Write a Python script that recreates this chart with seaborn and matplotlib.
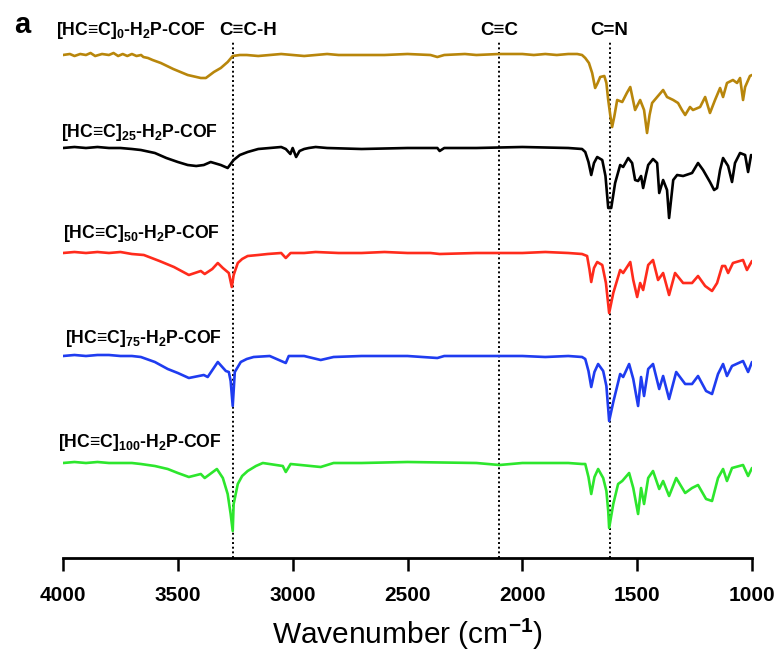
import matplotlib
matplotlib.use("Agg")
import matplotlib.pyplot as plt
import pandas as pd
import seaborn as sns

sns.set_style("white")
plt.rcParams['font.family'] = ['Liberation Sans', 'DejaVu Sans']
plt.rcParams['text.color'] = 'black'
plt.rcParams['axes.labelcolor'] = 'black'
plt.rcParams['mathtext.fontset'] = 'custom'
plt.rcParams['mathtext.rm'] = 'Liberation Sans:bold'
plt.rcParams['mathtext.bf'] = 'Liberation Sans:bold'
plt.rcParams['mathtext.it'] = 'Liberation Sans:bold'

# FTIR spectra, transmittance change (a.u.) relative to each trace's baseline
samples = ["[HC≡C]$_{0}$-H$_{2}$P-COF", "[HC≡C]$_{25}$-H$_{2}$P-COF",
           "[HC≡C]$_{50}$-H$_{2}$P-COF", "[HC≡C]$_{75}$-H$_{2}$P-COF",
           "[HC≡C]$_{100}$-H$_{2}$P-COF"]
colors = ["#B8860B", "#000000", "#FF2B1C", "#1F3CF0", "#2DE62D"]
offsets = [445, 352, 247, 144, 37]

wn_0 = [4000, 3970, 3950, 3925, 3900, 3880, 3860, 3830, 3800, 3780, 3760, 3740, 3720,
        3700, 3680, 3660, 3650, 3630, 3610, 3574, 3520, 3457, 3400, 3378, 3343, 3313,
        3283, 3261, 3230, 3200, 3150, 3100, 3050, 3000, 2950, 2900, 2850, 2800, 2700,
        2600, 2500, 2400, 2370, 2340, 2250, 2200, 2100, 2000, 1950, 1900, 1850, 1800,
        1761, 1740, 1726, 1710, 1696, 1683, 1672, 1661, 1643, 1634, 1626, 1616, 1609,
        1600, 1587, 1565, 1545, 1530, 1509, 1487, 1470, 1457, 1446, 1435, 1413, 1387,
        1370, 1343, 1322, 1305, 1291, 1270, 1257, 1226, 1204, 1183, 1161, 1139, 1126,
        1109, 1083, 1065, 1052, 1039, 1030, 1009, 1000]
tr_0 = [0, 1, -1, 1, 0, 2, -1, 1, 0, 2, -1, 1, -1,
        1, -1, 0, -2, -3, -5, -8, -14, -20, -23, -23, -17, -13,
        -7, -1, 0, 0, -1, 0, 1, 0, -1, 0, 1, 0, 0,
        0, 1, 0, -2, 0, 1, 0, 1, 1, 0, 1, 0, 1,
        1, 0, -3, -8, -18, -33, -28, -22, -21, -28, -45, -62, -72,
        -62, -45, -47, -38, -32, -55, -45, -55, -78, -60, -48, -42, -35,
        -42, -45, -48, -55, -60, -52, -55, -52, -42, -58, -45, -33, -42,
        -28, -25, -28, -23, -45, -32, -21, -20]

wn_25 = [4000, 3950, 3900, 3850, 3800, 3750, 3700, 3661, 3600, 3550, 3500, 3457, 3420,
         3387, 3357, 3313, 3283, 3257, 3230, 3196, 3150, 3100, 3050, 3030, 3010, 3000,
         2985, 2970, 2950, 2930, 2900, 2850, 2700, 2500, 2370, 2360, 2340, 2200, 2000,
         1800, 1740, 1726, 1712, 1700, 1688, 1674, 1652, 1638, 1626, 1613, 1596, 1574,
         1561, 1539, 1522, 1509, 1496, 1483, 1474, 1462, 1452, 1431, 1413, 1404, 1387,
         1370, 1361, 1343, 1326, 1300, 1261, 1235, 1213, 1183, 1165, 1152, 1139, 1126,
         1104, 1087, 1074, 1052, 1030, 1017, 1004, 1000]
tr_25 = [0, 1, 0, 1, 0, 0, -1, -2, -5, -10, -14, -17, -18,
         -17, -14, -17, -20, -12, -7, -4, -1, 0, 1, -1, -6, 0,
         -9, -3, -1, 0, 1, 0, -1, 0, 0, -3, 0, 0, 1,
         0, -1, -4, -14, -27, -15, -9, -12, -28, -60, -60, -35, -17,
         -19, -10, -15, -32, -33, -28, -40, -27, -17, -11, -15, -45, -32,
         -42, -70, -32, -27, -28, -25, -15, -22, -34, -42, -40, -22, -10,
         -18, -34, -15, -5, -7, -24, -7, -8]

wn_50 = [4000, 3950, 3900, 3850, 3800, 3750, 3700, 3648, 3580, 3517, 3452, 3400, 3383,
         3350, 3326, 3304, 3278, 3265, 3257, 3239, 3220, 3196, 3150, 3109, 3050, 3030,
         3009, 2950, 2900, 2800, 2700, 2600, 2500, 2400, 2360, 2200, 2100, 2000, 1900,
         1800, 1740, 1718, 1708, 1700, 1688, 1674, 1652, 1636, 1622, 1604, 1574, 1561,
         1530, 1517, 1500, 1487, 1474, 1452, 1431, 1409, 1387, 1361, 1335, 1300, 1261,
         1235, 1204, 1174, 1152, 1130, 1117, 1104, 1083, 1039, 1022, 1000]
tr_50 = [0, 1, 0, 1, 0, 1, -1, -2, -8, -14, -22, -18, -21,
         -16, -10, -15, -20, -34, -22, -10, -6, -3, -2, -1, 0, -5,
         0, 0, 1, 0, 0, 1, 0, 0, -1, 0, 0, 0, 1,
         0, -1, -3, -16, -29, -15, -9, -12, -30, -60, -40, -17, -20,
         -9, -27, -44, -30, -37, -12, -7, -27, -20, -42, -20, -30, -30,
         -23, -33, -38, -30, -13, -13, -20, -10, -7, -17, -8]

wn_75 = [4000, 3950, 3900, 3850, 3800, 3750, 3700, 3661, 3600, 3544, 3500, 3452, 3387,
         3370, 3326, 3291, 3278, 3270, 3261, 3252, 3226, 3200, 3170, 3100, 3030, 3017,
         2950, 2878, 2822, 2700, 2500, 2370, 2340, 2200, 2100, 2000, 1900, 1800, 1740,
         1726, 1712, 1700, 1686, 1670, 1648, 1634, 1626, 1622, 1604, 1574, 1561, 1535,
         1517, 1496, 1483, 1470, 1452, 1431, 1404, 1387, 1361, 1330, 1291, 1261, 1235,
         1200, 1174, 1148, 1126, 1109, 1087, 1039, 1017, 1000]
tr_75 = [0, 1, 0, 1, 1, 0, 0, -1, -6, -13, -17, -22, -19,
         -21, -6, -15, -16, -25, -50, -16, -6, -3, -1, 0, -7, 0,
         0, -4, -1, 0, 0, -2, 0, 0, 0, 0, -1, 0, -1,
         -3, -15, -31, -16, -8, -15, -30, -53, -65, -46, -18, -21, -8,
         -23, -50, -21, -40, -13, -8, -33, -20, -43, -16, -28, -28, -20,
         -35, -38, -18, -8, -20, -10, -5, -16, -6]

wn_100 = [4000, 3950, 3900, 3850, 3800, 3750, 3700, 3661, 3600, 3544, 3500, 3452, 3400,
          3383, 3330, 3304, 3283, 3270, 3261, 3257, 3239, 3220, 3196, 3160, 3130, 3043,
          3030, 3009, 2878, 2822, 2700, 2500, 2200, 2100, 2000, 1800, 1740, 1726, 1712,
          1700, 1686, 1670, 1648, 1634, 1626, 1622, 1604, 1583, 1565, 1535, 1517, 1496,
          1483, 1470, 1452, 1431, 1404, 1387, 1361, 1330, 1291, 1261, 1235, 1200, 1174,
          1148, 1126, 1109, 1087, 1039, 1017, 1000]
tr_100 = [0, 1, 0, 1, 0, 0, 0, -1, -3, -6, -10, -14, -11,
          -15, -6, -15, -31, -51, -68, -41, -21, -13, -8, -3, 0, -3,
          -9, -1, -4, 0, 0, 1, 0, -2, 0, 0, -1, -1, -14,
          -31, -14, -6, -15, -28, -48, -65, -41, -21, -18, -10, -25, -51,
          -25, -41, -15, -8, -26, -18, -33, -15, -30, -25, -22, -36, -38,
          -15, -6, -18, -5, -2, -13, -5]

wavenumbers = [wn_0, wn_25, wn_50, wn_75, wn_100]
signals = [tr_0, tr_25, tr_50, tr_75, tr_100]

frames = []
for name, off, wn, tr in zip(samples, offsets, wavenumbers, signals):
    frames.append(pd.DataFrame({"wavenumber": wn,
                                "signal": [off + t for t in tr],
                                "sample": name}))
df = pd.concat(frames, ignore_index=True)

# marker bands (cm-1) and their labels
band_pos = [3260, 2100, 1620]
band_txt = ["C≡C-H", "C≡C", "C=N"]
band_txt_x = [3195, 2100, 1620]

# label anchors: left edge (cm-1) and baseline height of each trace name
label_x = [4030, 4009, 4000, 3991, 4022]
label_y = [465, 363, 262, 157, 53]

fig = plt.figure(figsize=(7.8, 6.51), dpi=100)
ax = fig.add_axes([63 / 780, 93 / 651, 689 / 780, 528 / 651])

sns.lineplot(data=df, x="wavenumber", y="signal", hue="sample", hue_order=samples,
             palette=colors, estimator=None, linewidth=1.9, legend=False, ax=ax)
for ln in ax.get_lines():
    ln.set_solid_joinstyle("round")

for pos in band_pos:
    ax.axvline(pos, ymin=0, ymax=0.977, color="black", linestyle=(0, (1, 1.4)),
               linewidth=1.4, zorder=0)

ax.set_xlim(4000, 1000)
ax.set_ylim(-58, 470)

for name, lx, ly in zip(samples, label_x, label_y):
    ax.text(lx, ly, name, fontsize=12.7, fontweight="bold", ha="left", va="baseline",
            clip_on=False)

for tx, txt in zip(band_txt_x, band_txt):
    ax.text(tx, 465, txt, fontsize=13.5, fontweight="bold", ha="center", va="baseline",
            clip_on=False)

fig.text(22 / 780, 1 - 33 / 651, "a", fontsize=21, fontweight="bold",
         ha="center", va="baseline")

ax.set_xticks([4000, 3500, 3000, 2500, 2000, 1500, 1000])
ax.set_yticks([])
for side in ["left", "right", "top"]:
    ax.spines[side].set_visible(False)
ax.spines["bottom"].set_linewidth(2.0)
ax.spines["bottom"].set_color("black")
ax.tick_params(axis="x", direction="out", length=9.5, width=1.8, pad=10.5,
               labelsize=15, bottom=True, colors="black")
for lbl in ax.get_xticklabels():
    lbl.set_fontweight("bold")
ax.set_xlabel("Wavenumber (cm$^{-1}$)", fontsize=21.5, fontweight="normal",
              labelpad=9)
ax.set_ylabel("")

fig.savefig("out.png", dpi=100, facecolor="white")
